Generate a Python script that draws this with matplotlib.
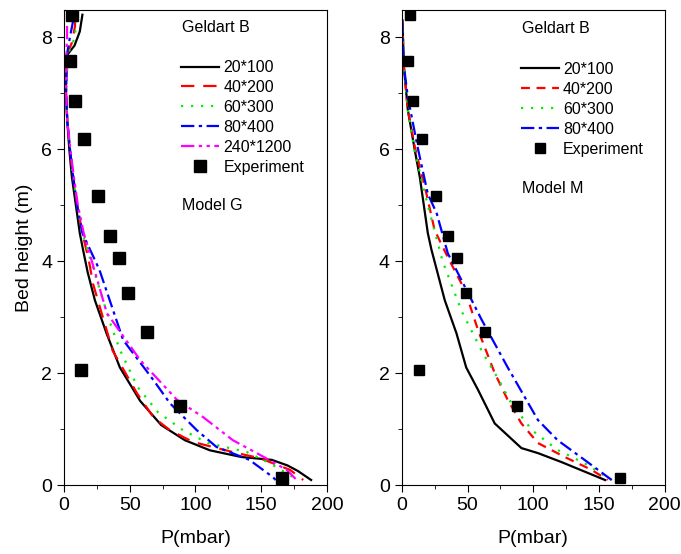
# pressure profiles, Geldart B, models G and M

import matplotlib
matplotlib.use("Agg")
import matplotlib.pyplot as plt
from matplotlib.ticker import MultipleLocator

plt.rcParams['font.family'] = ['Liberation Sans', 'DejaVu Sans']

# experiment (same in both panels)
exp_p = [6, 4.5, 8.4, 15, 26, 35, 42, 49, 63, 13, 88, 166]
exp_h = [8.4, 7.57, 6.86, 6.18, 5.16, 4.45, 4.05, 3.43, 2.73, 2.05, 1.41, 0.13]

# Model G
g_h_20 = [8.4, 8.1, 7.85, 7.7, 7.5, 7.0, 6.5, 6.0, 5.5, 5.0, 4.5, 4.2, 3.8, 3.3, 2.7, 2.1, 1.5, 1.07, 0.8, 0.62, 0.5, 0.45, 0.35, 0.25, 0.09]
g_p_20 = [14, 12, 8, 3, 1.5, 1.5, 2.5, 4, 6, 9, 12, 14.5, 18, 23.5, 32.5, 42.5, 58, 74, 92, 111, 135, 158, 170, 178, 188]

g_h_40 = [8.3, 8.2, 7.9, 7.7, 7.0, 6.5, 6.0, 5.5, 5.0, 4.5, 4.0, 3.6, 2.4, 1.64, 1.21, 0.98, 0.77, 0.57, 0.48, 0.27, 0.09]
g_p_40 = [8.4, 8.4, 6, 2.3, 1.5, 2.5, 4.5, 7, 10, 14, 19, 22, 37, 55.5, 68, 80.6, 98, 131.6, 149, 172, 182]

g_h_60 = [8.3, 8.0, 7.7, 7.0, 6.5, 6.0, 5.5, 5.0, 4.5, 3.96, 2.9, 2.41, 1.75, 1.3, 0.98, 0.75, 0.59, 0.39, 0.09]
g_p_60 = [9, 8.4, 3, 1.5, 2.5, 4.5, 7, 10, 14, 21, 35, 42.6, 56, 71.5, 90.5, 109.5, 139, 156.6, 178]

g_h_80 = [8.3, 8.0, 7.7, 7.0, 6.5, 6.0, 5.5, 5.0, 4.5, 3.84, 2.59, 1.875, 1.46, 0.98, 0.68, 0.45, 0.14, 0.09]
g_p_80 = [7, 4.5, 2.3, 1.5, 2.5, 4.5, 7, 10, 14, 27, 45, 68, 80.6, 101, 116, 141, 159, 161]

g_h_240 = [8.2, 8.0, 7.7, 7.0, 6.5, 6.0, 5.5, 5.0, 4.5, 3.07, 2.23, 1.52, 1.21, 0.8, 0.54, 0.27, 0.09]
g_p_240 = [2.3, 2.3, 1.8, 1.5, 2.5, 4.8, 7.5, 10.5, 15, 32.6, 58, 86, 106, 128.5, 149, 169.5, 177]

# Model M
m_h_20 = [8.3, 7.5, 6.7, 5.98, 5.5, 4.5, 4.2, 3.3, 2.71, 2.1, 1.7, 1.1, 0.66, 0.57, 0.41, 0.09]
m_p_20 = [0.5, 1.5, 4.6, 9.9, 13.7, 19.8, 22.6, 32.7, 41.6, 49, 58, 70.7, 91, 103.6, 121.5, 154.6]

m_h_40 = [8.3, 7.5, 6.7, 6.04, 5.2, 4.55, 4.07, 3.48, 2.77, 2.0, 1.52, 1.1, 0.75, 0.5, 0.27, 0.09]
m_p_40 = [0.5, 1.5, 4.6, 9.9, 18.8, 25, 35, 48, 58, 70.7, 80.6, 91, 103.6, 124, 144.5, 156.6]

m_h_60 = [8.3, 7.5, 6.7, 6.0, 5.2, 4.0, 3.1, 2.36, 1.91, 1.46, 0.98, 0.625, 0.39, 0.09]
m_p_60 = [0.5, 1.5, 4.6, 9.5, 17.5, 31, 45.6, 61.6, 73, 83.4, 99, 118.6, 139, 159.7]

m_h_80 = [8.3, 7.5, 6.93, 6.04, 5.2, 4.85, 4.14, 2.95, 2.1, 1.16, 0.8, 0.45, 0.09]
m_p_80 = [0.3, 1.5, 4.6, 12, 19.8, 26.6, 35, 60.8, 80.6, 103.6, 118.6, 139, 159.7]

fig = plt.figure(figsize=(6.81, 5.54), dpi=100)
ax1 = fig.add_axes([0.094, 0.1245, 0.386, 0.857])
ax2 = fig.add_axes([0.590, 0.1245, 0.386, 0.857])

lw = 1.6
ax1.plot(g_p_20, g_h_20, color='black', lw=lw, label='20*100')
ax1.plot(g_p_40, g_h_40, color='red', lw=lw, dashes=(6, 4), label='40*200')
ax1.plot(g_p_60, g_h_60, color='#00ee00', lw=lw, dashes=(1, 3.5), label='60*300')
ax1.plot(g_p_80, g_h_80, color='blue', lw=lw, dashes=(6, 2, 1.5, 2), label='80*400')
ax1.plot(g_p_240, g_h_240, color='magenta', lw=lw, dashes=(6, 2, 1.5, 2, 1.5, 2), label='240*1200')
ax1.plot(exp_p, exp_h, 's', color='black', ms=9, label='Experiment')

ax2.plot(m_p_20, m_h_20, color='black', lw=lw, label='20*100')
ax2.plot(m_p_40, m_h_40, color='red', lw=lw, dashes=(4, 3), label='40*200')
ax2.plot(m_p_60, m_h_60, color='#00ee00', lw=lw, dashes=(1, 3.5), label='60*300')
ax2.plot(m_p_80, m_h_80, color='blue', lw=lw, dashes=(6, 2, 1.5, 2), label='80*400')
ax2.plot(exp_p, exp_h, 's', color='black', ms=7, label='Experiment')

for ax, lx, ly in [(ax1, 0.445, 0.895), (ax2, 0.452, 0.891)]:
    ax.set_xlim(0, 200)
    ax.set_ylim(0, 8.48)
    ax.xaxis.set_major_locator(MultipleLocator(50))
    ax.xaxis.set_minor_locator(MultipleLocator(25))
    ax.yaxis.set_major_locator(MultipleLocator(2))
    ax.yaxis.set_minor_locator(MultipleLocator(1))
    ax.tick_params(which='both', direction='out', labelsize=14)
    ax.tick_params(which='major', length=5)
    ax.tick_params(which='minor', length=3)
    ax.set_xlabel('P(mbar)', fontsize=14, labelpad=12)
    ax.legend(loc='upper left', bbox_to_anchor=(lx, ly), frameon=False,
              fontsize=11.5, handlelength=2.4, handletextpad=0.25,
              labelspacing=0.31, borderpad=0, borderaxespad=0)

ax1.set_ylabel('Bed height (m)', fontsize=14, labelpad=6)
ax1.text(0.449, 0.964, 'Geldart B', transform=ax1.transAxes, fontsize=11.5, va='center')
ax1.text(0.449, 0.589, 'Model G', transform=ax1.transAxes, fontsize=11.5, va='center')
ax2.text(0.456, 0.962, 'Geldart B', transform=ax2.transAxes, fontsize=11.5, va='center')
ax2.text(0.456, 0.625, 'Model M', transform=ax2.transAxes, fontsize=11.5, va='center')

plt.savefig('out.png', dpi=100)
